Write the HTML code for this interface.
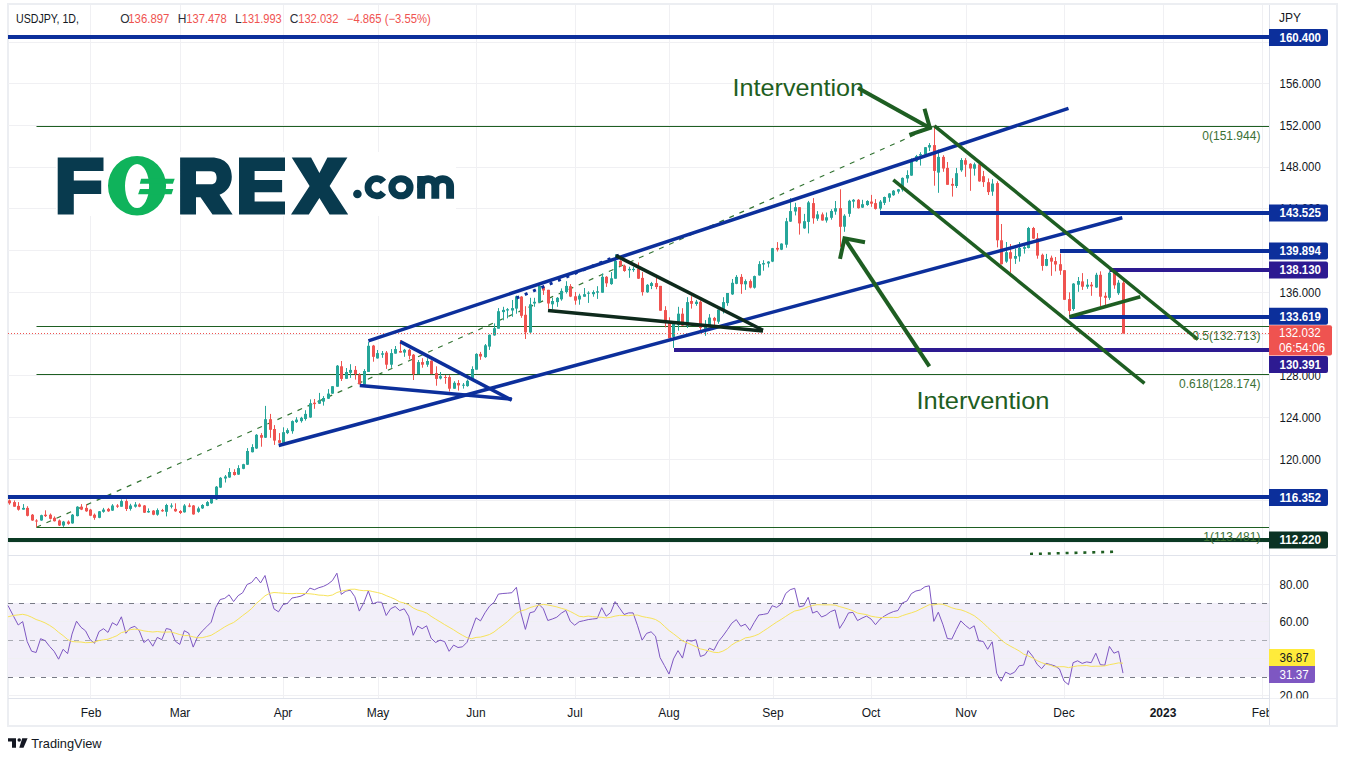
<!DOCTYPE html>
<html><head><meta charset="utf-8"><style>
html,body{margin:0;padding:0;background:#fff;width:1347px;height:761px;overflow:hidden}
svg{display:block}
text{font-family:"Liberation Sans",sans-serif}
</style></head><body>
<svg width="1347" height="761" viewBox="0 0 1347 761">
<rect x="0" y="0" width="1347" height="761" fill="#ffffff"/>
<rect x="8" y="4" width="1329" height="722" fill="none" stroke="#eceef2" stroke-width="2"/>
<line x1="90.5" y1="5" x2="90.5" y2="698" stroke="#f0f0f3" stroke-width="1"/>
<line x1="180.5" y1="5" x2="180.5" y2="698" stroke="#f0f0f3" stroke-width="1"/>
<line x1="283.5" y1="5" x2="283.5" y2="698" stroke="#f0f0f3" stroke-width="1"/>
<line x1="378.5" y1="5" x2="378.5" y2="698" stroke="#f0f0f3" stroke-width="1"/>
<line x1="476.5" y1="5" x2="476.5" y2="698" stroke="#f0f0f3" stroke-width="1"/>
<line x1="575.5" y1="5" x2="575.5" y2="698" stroke="#f0f0f3" stroke-width="1"/>
<line x1="669.5" y1="5" x2="669.5" y2="698" stroke="#f0f0f3" stroke-width="1"/>
<line x1="773.5" y1="5" x2="773.5" y2="698" stroke="#f0f0f3" stroke-width="1"/>
<line x1="871.5" y1="5" x2="871.5" y2="698" stroke="#f0f0f3" stroke-width="1"/>
<line x1="966.5" y1="5" x2="966.5" y2="698" stroke="#f0f0f3" stroke-width="1"/>
<line x1="1064.5" y1="5" x2="1064.5" y2="698" stroke="#f0f0f3" stroke-width="1"/>
<line x1="1163.5" y1="5" x2="1163.5" y2="698" stroke="#f0f0f3" stroke-width="1"/>
<line x1="1262.5" y1="5" x2="1262.5" y2="698" stroke="#f0f0f3" stroke-width="1"/>
<line x1="8" y1="542.5" x2="1269" y2="542.5" stroke="#f0f0f3" stroke-width="1"/>
<line x1="8" y1="500.5" x2="1269" y2="500.5" stroke="#f0f0f3" stroke-width="1"/>
<line x1="8" y1="459.5" x2="1269" y2="459.5" stroke="#f0f0f3" stroke-width="1"/>
<line x1="8" y1="417.5" x2="1269" y2="417.5" stroke="#f0f0f3" stroke-width="1"/>
<line x1="8" y1="375.5" x2="1269" y2="375.5" stroke="#f0f0f3" stroke-width="1"/>
<line x1="8" y1="334.5" x2="1269" y2="334.5" stroke="#f0f0f3" stroke-width="1"/>
<line x1="8" y1="292.5" x2="1269" y2="292.5" stroke="#f0f0f3" stroke-width="1"/>
<line x1="8" y1="250.5" x2="1269" y2="250.5" stroke="#f0f0f3" stroke-width="1"/>
<line x1="8" y1="208.5" x2="1269" y2="208.5" stroke="#f0f0f3" stroke-width="1"/>
<line x1="8" y1="167.5" x2="1269" y2="167.5" stroke="#f0f0f3" stroke-width="1"/>
<line x1="8" y1="125.5" x2="1269" y2="125.5" stroke="#f0f0f3" stroke-width="1"/>
<line x1="8" y1="83.5" x2="1269" y2="83.5" stroke="#f0f0f3" stroke-width="1"/>
<line x1="8" y1="42.5" x2="1269" y2="42.5" stroke="#f0f0f3" stroke-width="1"/>
<rect x="8" y="602.9" width="1261" height="74.0" fill="#f2eff9"/>
<line x1="8" y1="584.5" x2="1269" y2="584.5" stroke="#f0f0f3" stroke-width="1"/>
<line x1="8" y1="621.5" x2="1269" y2="621.5" stroke="#f0f0f3" stroke-width="1"/>
<line x1="8" y1="658.5" x2="1269" y2="658.5" stroke="#f0f0f3" stroke-width="1"/>
<line x1="8" y1="695.5" x2="1269" y2="695.5" stroke="#f0f0f3" stroke-width="1"/>
<line x1="8" y1="603.5" x2="1269" y2="603.5" stroke="#787b86" stroke-width="1" stroke-dasharray="5,6"/>
<line x1="8" y1="640.5" x2="1269" y2="640.5" stroke="#a9abb3" stroke-width="1" stroke-dasharray="5,6"/>
<line x1="8" y1="677.5" x2="1269" y2="677.5" stroke="#787b86" stroke-width="1" stroke-dasharray="5,6"/>
<line x1="36.5" y1="126.5" x2="1269" y2="126.5" stroke="#1e5f22" stroke-width="1"/>
<line x1="36.5" y1="326.5" x2="1269" y2="326.5" stroke="#1e5f22" stroke-width="1"/>
<line x1="36.5" y1="374.5" x2="1269" y2="374.5" stroke="#1e5f22" stroke-width="1"/>
<line x1="36.5" y1="527.5" x2="1269" y2="527.5" stroke="#1e5f22" stroke-width="1"/>
<line x1="36.4" y1="527.3" x2="934.4" y2="126" stroke="#347534" stroke-width="1.2" stroke-dasharray="5,6"/>
<g>
<rect x="56" y="152" width="400" height="64" fill="#fff"/>
<g fill="#083a4e">
<path d="M57.7,157.6H103.5V171H73.8V180.6H101.2V194H73.8V214.5H57.7Z"/>
<path fill-rule="evenodd" d="M180.1,157.6H211.5C225.5,157.6 231.8,166.5 231.8,176.8C231.8,185.5 227,192 219.5,194.8L232.6,214.5H212.5L200.5,197.2H196V214.5H180.1Z M196,171.2H211C215,171.2 216.6,174 216.6,177.7C216.6,181.4 215,184.3 211,184.3H196Z"/>
<path d="M239,157.6H285V171H254.6V180H282.1V192.2H254.6V201.4H285V214.5H239Z"/>
<path d="M291.7,157.6H311.1L319.4,173L327.4,157.6H347.4L329.6,186L348.2,214.5H329.6L319.4,198L308.8,214.5H291L309.6,186Z"/>
<circle cx="357.4" cy="194" r="4.3"/>
</g>
<g fill="none" stroke="#083a4e">
<path d="M383.4,181.95 A8.6,8.6 0 1 0 383.4,192.55" stroke-width="6.9"/>
<ellipse cx="400.95" cy="187.25" rx="9.0" ry="8.5" stroke-width="7.2"/>
<path d="M421.1,198.7 V186.2 A7.1,7.1 0 0 1 435.3,186.2 V198.7 M435.3,186.2 A7.4,7.1 0 0 1 450.1,186.2 V198.7" stroke-width="7.9"/>
</g>
<rect x="417.2" y="176" width="7.9" height="12" fill="#083a4e"/>
<path fill-rule="evenodd" fill="#0fb35b" d="M108,185.8 A29.05,29.8 0 1 0 166.1,185.8 A29.05,29.8 0 1 0 108,185.8Z M125,186.1 A12.05,22 0 1 0 149.1,186.1 A12.05,22 0 1 0 125,186.1Z"/>
<path fill="#0fb35b" d="M141.1,178.8H174.7L172.9,183.8H139.8Z"/>
<path fill="#0fb35b" d="M140,189.1H173.3L171.6,194.3H138.1Z"/>
</g>
<rect x="9" y="499.4" width="1" height="5.3" fill="#ef5350"/>
<rect x="8" y="500.4" width="3" height="2.9" fill="#ef5350"/>
<rect x="14" y="500.4" width="1" height="6.3" fill="#ef5350"/>
<rect x="13" y="502.1" width="3" height="4.6" fill="#ef5350"/>
<rect x="18" y="502.1" width="1" height="8.5" fill="#ef5350"/>
<rect x="17" y="505.9" width="3" height="3.8" fill="#ef5350"/>
<rect x="23" y="504.1" width="1" height="5.5" fill="#26a69a"/>
<rect x="22" y="507.9" width="3" height="1.7" fill="#26a69a"/>
<rect x="27" y="506.2" width="1" height="10.2" fill="#ef5350"/>
<rect x="26" y="507.9" width="3" height="7.9" fill="#ef5350"/>
<rect x="32" y="514.0" width="1" height="6.8" fill="#ef5350"/>
<rect x="31" y="514.7" width="3" height="5.8" fill="#ef5350"/>
<rect x="36" y="519.2" width="1" height="8.0" fill="#ef5350"/>
<rect x="35" y="520.5" width="3" height="1.0" fill="#ef5350"/>
<rect x="41" y="514.7" width="1" height="6.1" fill="#26a69a"/>
<rect x="40" y="515.2" width="3" height="5.3" fill="#26a69a"/>
<rect x="45" y="510.3" width="1" height="6.7" fill="#ef5350"/>
<rect x="44" y="514.7" width="3" height="1.4" fill="#ef5350"/>
<rect x="50" y="513.5" width="1" height="6.0" fill="#ef5350"/>
<rect x="49" y="514.7" width="3" height="4.1" fill="#ef5350"/>
<rect x="54" y="516.4" width="1" height="5.1" fill="#ef5350"/>
<rect x="53" y="517.8" width="3" height="3.4" fill="#ef5350"/>
<rect x="59" y="519.5" width="1" height="6.5" fill="#ef5350"/>
<rect x="58" y="520.5" width="3" height="5.0" fill="#ef5350"/>
<rect x="63" y="520.9" width="1" height="6.0" fill="#26a69a"/>
<rect x="62" y="521.6" width="3" height="3.9" fill="#26a69a"/>
<rect x="68" y="520.4" width="1" height="4.3" fill="#ef5350"/>
<rect x="67" y="521.6" width="3" height="2.2" fill="#ef5350"/>
<rect x="72" y="514.0" width="1" height="9.7" fill="#26a69a"/>
<rect x="71" y="514.7" width="3" height="8.7" fill="#26a69a"/>
<rect x="77" y="506.2" width="1" height="10.2" fill="#26a69a"/>
<rect x="76" y="506.7" width="3" height="9.4" fill="#26a69a"/>
<rect x="81" y="504.1" width="1" height="6.0" fill="#ef5350"/>
<rect x="80" y="506.7" width="3" height="2.9" fill="#ef5350"/>
<rect x="86" y="504.1" width="1" height="7.7" fill="#ef5350"/>
<rect x="85" y="507.9" width="3" height="3.4" fill="#ef5350"/>
<rect x="90" y="508.9" width="1" height="7.2" fill="#ef5350"/>
<rect x="89" y="509.6" width="3" height="6.1" fill="#ef5350"/>
<rect x="94" y="513.5" width="1" height="6.3" fill="#ef5350"/>
<rect x="93" y="514.7" width="3" height="3.1" fill="#ef5350"/>
<rect x="99" y="511.0" width="1" height="7.2" fill="#26a69a"/>
<rect x="98" y="511.3" width="3" height="6.5" fill="#26a69a"/>
<rect x="103" y="507.9" width="1" height="4.8" fill="#26a69a"/>
<rect x="102" y="509.6" width="3" height="2.2" fill="#26a69a"/>
<rect x="108" y="507.9" width="1" height="3.9" fill="#ef5350"/>
<rect x="107" y="508.9" width="3" height="2.4" fill="#ef5350"/>
<rect x="112" y="504.1" width="1" height="6.8" fill="#26a69a"/>
<rect x="111" y="505.5" width="3" height="5.1" fill="#26a69a"/>
<rect x="117" y="504.1" width="1" height="3.8" fill="#ef5350"/>
<rect x="116" y="505.5" width="3" height="1.2" fill="#ef5350"/>
<rect x="121" y="499.4" width="1" height="7.3" fill="#26a69a"/>
<rect x="120" y="501.1" width="3" height="5.6" fill="#26a69a"/>
<rect x="126" y="499.4" width="1" height="11.6" fill="#ef5350"/>
<rect x="125" y="501.1" width="3" height="7.9" fill="#ef5350"/>
<rect x="130" y="503.8" width="1" height="6.8" fill="#26a69a"/>
<rect x="129" y="505.5" width="3" height="3.4" fill="#26a69a"/>
<rect x="135" y="502.1" width="1" height="5.5" fill="#26a69a"/>
<rect x="134" y="504.5" width="3" height="2.2" fill="#26a69a"/>
<rect x="139" y="503.3" width="1" height="3.9" fill="#ef5350"/>
<rect x="138" y="504.5" width="3" height="2.2" fill="#ef5350"/>
<rect x="144" y="505.0" width="1" height="8.0" fill="#ef5350"/>
<rect x="143" y="505.5" width="3" height="7.2" fill="#ef5350"/>
<rect x="148" y="508.4" width="1" height="4.3" fill="#26a69a"/>
<rect x="147" y="511.0" width="3" height="1.4" fill="#26a69a"/>
<rect x="153" y="510.1" width="1" height="5.1" fill="#ef5350"/>
<rect x="152" y="510.6" width="3" height="4.1" fill="#ef5350"/>
<rect x="157" y="508.4" width="1" height="7.3" fill="#26a69a"/>
<rect x="156" y="510.1" width="3" height="4.6" fill="#26a69a"/>
<rect x="162" y="508.9" width="1" height="2.9" fill="#ef5350"/>
<rect x="161" y="510.1" width="3" height="1.2" fill="#ef5350"/>
<rect x="166" y="503.8" width="1" height="12.6" fill="#26a69a"/>
<rect x="165" y="505.0" width="3" height="6.8" fill="#26a69a"/>
<rect x="171" y="503.3" width="1" height="5.1" fill="#26a69a"/>
<rect x="170" y="505.5" width="3" height="1.2" fill="#26a69a"/>
<rect x="175" y="503.3" width="1" height="8.5" fill="#ef5350"/>
<rect x="174" y="508.9" width="3" height="2.4" fill="#ef5350"/>
<rect x="180" y="510.1" width="1" height="3.9" fill="#ef5350"/>
<rect x="179" y="511.0" width="3" height="2.0" fill="#ef5350"/>
<rect x="184" y="504.1" width="1" height="8.5" fill="#26a69a"/>
<rect x="183" y="505.5" width="3" height="6.8" fill="#26a69a"/>
<rect x="189" y="503.3" width="1" height="3.9" fill="#ef5350"/>
<rect x="188" y="505.5" width="3" height="1.2" fill="#ef5350"/>
<rect x="193" y="505.0" width="1" height="9.7" fill="#ef5350"/>
<rect x="192" y="505.5" width="3" height="8.9" fill="#ef5350"/>
<rect x="198" y="506.7" width="1" height="6.0" fill="#26a69a"/>
<rect x="197" y="508.4" width="3" height="3.4" fill="#26a69a"/>
<rect x="202" y="504.1" width="1" height="4.8" fill="#26a69a"/>
<rect x="201" y="505.0" width="3" height="3.4" fill="#26a69a"/>
<rect x="207" y="501.1" width="1" height="5.1" fill="#26a69a"/>
<rect x="206" y="502.1" width="3" height="3.8" fill="#26a69a"/>
<rect x="211" y="497.7" width="1" height="6.1" fill="#26a69a"/>
<rect x="210" y="499.0" width="3" height="4.3" fill="#26a69a"/>
<rect x="216" y="486.0" width="1" height="13.9" fill="#26a69a"/>
<rect x="215" y="486.7" width="3" height="12.7" fill="#26a69a"/>
<rect x="220" y="477.1" width="1" height="10.8" fill="#26a69a"/>
<rect x="219" y="477.8" width="3" height="9.8" fill="#26a69a"/>
<rect x="225" y="475.0" width="1" height="7.5" fill="#26a69a"/>
<rect x="224" y="476.5" width="3" height="2.0" fill="#26a69a"/>
<rect x="229" y="468.1" width="1" height="9.7" fill="#26a69a"/>
<rect x="228" y="472.0" width="3" height="5.5" fill="#26a69a"/>
<rect x="234" y="469.2" width="1" height="6.4" fill="#ef5350"/>
<rect x="233" y="472.0" width="3" height="3.0" fill="#ef5350"/>
<rect x="238" y="465.2" width="1" height="9.7" fill="#26a69a"/>
<rect x="237" y="468.1" width="3" height="6.5" fill="#26a69a"/>
<rect x="243" y="463.8" width="1" height="5.4" fill="#26a69a"/>
<rect x="242" y="464.2" width="3" height="4.6" fill="#26a69a"/>
<rect x="247" y="448.1" width="1" height="16.9" fill="#26a69a"/>
<rect x="246" y="451.0" width="3" height="13.7" fill="#26a69a"/>
<rect x="252" y="444.2" width="1" height="8.2" fill="#26a69a"/>
<rect x="251" y="447.1" width="3" height="5.1" fill="#26a69a"/>
<rect x="256" y="434.1" width="1" height="14.8" fill="#26a69a"/>
<rect x="255" y="434.8" width="3" height="13.7" fill="#26a69a"/>
<rect x="261" y="433.1" width="1" height="13.6" fill="#ef5350"/>
<rect x="260" y="435.1" width="3" height="2.6" fill="#ef5350"/>
<rect x="265" y="405.9" width="1" height="32.1" fill="#26a69a"/>
<rect x="264" y="419.2" width="3" height="18.5" fill="#26a69a"/>
<rect x="270" y="413.9" width="1" height="23.9" fill="#ef5350"/>
<rect x="269" y="419.2" width="3" height="10.6" fill="#ef5350"/>
<rect x="274" y="425.1" width="1" height="19.8" fill="#ef5350"/>
<rect x="273" y="429.0" width="3" height="11.6" fill="#ef5350"/>
<rect x="279" y="433.1" width="1" height="10.1" fill="#ef5350"/>
<rect x="278" y="440.2" width="3" height="2.6" fill="#ef5350"/>
<rect x="283" y="427.3" width="1" height="15.8" fill="#26a69a"/>
<rect x="282" y="432.2" width="3" height="10.6" fill="#26a69a"/>
<rect x="287" y="428.3" width="1" height="5.8" fill="#26a69a"/>
<rect x="286" y="430.1" width="3" height="3.0" fill="#26a69a"/>
<rect x="292" y="420.4" width="1" height="13.3" fill="#26a69a"/>
<rect x="291" y="421.1" width="3" height="10.1" fill="#26a69a"/>
<rect x="296" y="417.2" width="1" height="5.8" fill="#26a69a"/>
<rect x="295" y="419.6" width="3" height="2.5" fill="#26a69a"/>
<rect x="301" y="416.8" width="1" height="5.8" fill="#26a69a"/>
<rect x="300" y="417.8" width="3" height="3.3" fill="#26a69a"/>
<rect x="305" y="410.2" width="1" height="10.4" fill="#26a69a"/>
<rect x="304" y="413.9" width="3" height="5.1" fill="#26a69a"/>
<rect x="310" y="399.4" width="1" height="18.4" fill="#26a69a"/>
<rect x="309" y="403.3" width="3" height="14.2" fill="#26a69a"/>
<rect x="314" y="399.0" width="1" height="9.8" fill="#ef5350"/>
<rect x="313" y="402.7" width="3" height="1.4" fill="#ef5350"/>
<rect x="319" y="392.9" width="1" height="11.1" fill="#26a69a"/>
<rect x="318" y="400.4" width="3" height="3.3" fill="#26a69a"/>
<rect x="323" y="396.1" width="1" height="9.5" fill="#26a69a"/>
<rect x="322" y="398.0" width="3" height="3.6" fill="#26a69a"/>
<rect x="328" y="389.1" width="1" height="9.8" fill="#26a69a"/>
<rect x="327" y="393.6" width="3" height="5.1" fill="#26a69a"/>
<rect x="332" y="386.2" width="1" height="7.6" fill="#26a69a"/>
<rect x="331" y="386.2" width="3" height="7.4" fill="#26a69a"/>
<rect x="337" y="365.0" width="1" height="21.8" fill="#26a69a"/>
<rect x="336" y="365.7" width="3" height="21.0" fill="#26a69a"/>
<rect x="341" y="361.0" width="1" height="20.0" fill="#ef5350"/>
<rect x="340" y="366.3" width="3" height="12.6" fill="#ef5350"/>
<rect x="346" y="368.0" width="1" height="10.8" fill="#26a69a"/>
<rect x="345" y="372.0" width="3" height="6.8" fill="#26a69a"/>
<rect x="350" y="364.2" width="1" height="13.7" fill="#26a69a"/>
<rect x="349" y="369.9" width="3" height="2.9" fill="#26a69a"/>
<rect x="355" y="366.0" width="1" height="13.6" fill="#ef5350"/>
<rect x="354" y="369.9" width="3" height="4.2" fill="#ef5350"/>
<rect x="359" y="373.1" width="1" height="11.4" fill="#ef5350"/>
<rect x="358" y="374.7" width="3" height="9.5" fill="#ef5350"/>
<rect x="364" y="369.1" width="1" height="15.6" fill="#26a69a"/>
<rect x="363" y="371.0" width="3" height="13.7" fill="#26a69a"/>
<rect x="368" y="342.1" width="1" height="29.7" fill="#26a69a"/>
<rect x="367" y="345.8" width="3" height="26.1" fill="#26a69a"/>
<rect x="373" y="344.9" width="1" height="16.8" fill="#ef5350"/>
<rect x="372" y="345.6" width="3" height="11.2" fill="#ef5350"/>
<rect x="377" y="350.0" width="1" height="8.6" fill="#26a69a"/>
<rect x="376" y="353.1" width="3" height="5.3" fill="#26a69a"/>
<rect x="382" y="351.0" width="1" height="6.8" fill="#26a69a"/>
<rect x="381" y="353.3" width="3" height="1.4" fill="#26a69a"/>
<rect x="386" y="351.0" width="1" height="17.9" fill="#ef5350"/>
<rect x="385" y="352.6" width="3" height="12.1" fill="#ef5350"/>
<rect x="391" y="349.1" width="1" height="18.7" fill="#26a69a"/>
<rect x="390" y="353.1" width="3" height="11.6" fill="#26a69a"/>
<rect x="395" y="346.0" width="1" height="7.7" fill="#26a69a"/>
<rect x="394" y="349.1" width="3" height="4.5" fill="#26a69a"/>
<rect x="400" y="340.0" width="1" height="12.6" fill="#ef5350"/>
<rect x="399" y="351.0" width="3" height="1.6" fill="#ef5350"/>
<rect x="404" y="348.9" width="1" height="7.9" fill="#26a69a"/>
<rect x="403" y="349.8" width="3" height="2.8" fill="#26a69a"/>
<rect x="409" y="348.9" width="1" height="10.5" fill="#ef5350"/>
<rect x="408" y="349.8" width="3" height="6.0" fill="#ef5350"/>
<rect x="413" y="354.0" width="1" height="26.0" fill="#ef5350"/>
<rect x="412" y="354.7" width="3" height="19.4" fill="#ef5350"/>
<rect x="418" y="360.0" width="1" height="14.2" fill="#26a69a"/>
<rect x="417" y="362.1" width="3" height="11.9" fill="#26a69a"/>
<rect x="422" y="358.2" width="1" height="9.5" fill="#ef5350"/>
<rect x="421" y="362.1" width="3" height="2.6" fill="#ef5350"/>
<rect x="427" y="358.2" width="1" height="8.6" fill="#26a69a"/>
<rect x="426" y="361.0" width="3" height="3.7" fill="#26a69a"/>
<rect x="431" y="360.3" width="1" height="13.9" fill="#ef5350"/>
<rect x="430" y="360.7" width="3" height="13.2" fill="#ef5350"/>
<rect x="436" y="366.3" width="1" height="19.4" fill="#ef5350"/>
<rect x="435" y="373.1" width="3" height="5.8" fill="#ef5350"/>
<rect x="440" y="372.0" width="1" height="7.4" fill="#26a69a"/>
<rect x="439" y="376.2" width="3" height="2.3" fill="#26a69a"/>
<rect x="445" y="375.0" width="1" height="8.8" fill="#ef5350"/>
<rect x="444" y="377.0" width="3" height="1.0" fill="#ef5350"/>
<rect x="449" y="375.2" width="1" height="16.3" fill="#ef5350"/>
<rect x="448" y="377.1" width="3" height="11.6" fill="#ef5350"/>
<rect x="454" y="381.2" width="1" height="7.5" fill="#26a69a"/>
<rect x="453" y="382.8" width="3" height="5.9" fill="#26a69a"/>
<rect x="458" y="380.1" width="1" height="10.5" fill="#ef5350"/>
<rect x="457" y="383.0" width="3" height="2.4" fill="#ef5350"/>
<rect x="463" y="383.0" width="1" height="5.6" fill="#26a69a"/>
<rect x="462" y="384.7" width="3" height="1.0" fill="#26a69a"/>
<rect x="467" y="379.5" width="1" height="7.2" fill="#26a69a"/>
<rect x="466" y="380.8" width="3" height="5.3" fill="#26a69a"/>
<rect x="472" y="366.3" width="1" height="12.5" fill="#26a69a"/>
<rect x="471" y="369.0" width="3" height="9.9" fill="#26a69a"/>
<rect x="476" y="353.2" width="1" height="16.4" fill="#26a69a"/>
<rect x="475" y="353.9" width="3" height="15.8" fill="#26a69a"/>
<rect x="480" y="351.9" width="1" height="7.9" fill="#ef5350"/>
<rect x="479" y="353.9" width="3" height="2.6" fill="#ef5350"/>
<rect x="485" y="344.0" width="1" height="13.8" fill="#26a69a"/>
<rect x="484" y="345.3" width="3" height="11.8" fill="#26a69a"/>
<rect x="489" y="334.4" width="1" height="15.5" fill="#26a69a"/>
<rect x="488" y="334.8" width="3" height="11.8" fill="#26a69a"/>
<rect x="494" y="323.4" width="1" height="12.3" fill="#26a69a"/>
<rect x="493" y="328.2" width="3" height="7.2" fill="#26a69a"/>
<rect x="498" y="308.1" width="1" height="20.5" fill="#26a69a"/>
<rect x="497" y="311.2" width="3" height="17.5" fill="#26a69a"/>
<rect x="503" y="306.8" width="1" height="13.5" fill="#26a69a"/>
<rect x="502" y="309.9" width="3" height="2.2" fill="#26a69a"/>
<rect x="507" y="308.1" width="1" height="10.2" fill="#26a69a"/>
<rect x="506" y="309.2" width="3" height="1.3" fill="#26a69a"/>
<rect x="512" y="300.0" width="1" height="16.8" fill="#26a69a"/>
<rect x="511" y="308.1" width="3" height="2.4" fill="#26a69a"/>
<rect x="516" y="295.6" width="1" height="18.1" fill="#26a69a"/>
<rect x="515" y="296.3" width="3" height="12.3" fill="#26a69a"/>
<rect x="521" y="296.1" width="1" height="21.7" fill="#ef5350"/>
<rect x="520" y="296.6" width="3" height="19.2" fill="#ef5350"/>
<rect x="525" y="306.2" width="1" height="32.8" fill="#ef5350"/>
<rect x="524" y="314.8" width="3" height="17.6" fill="#ef5350"/>
<rect x="530" y="297.8" width="1" height="35.0" fill="#26a69a"/>
<rect x="529" y="304.3" width="3" height="28.2" fill="#26a69a"/>
<rect x="534" y="297.8" width="1" height="9.0" fill="#26a69a"/>
<rect x="533" y="301.8" width="3" height="1.7" fill="#26a69a"/>
<rect x="539" y="285.5" width="1" height="17.3" fill="#26a69a"/>
<rect x="538" y="285.9" width="3" height="16.5" fill="#26a69a"/>
<rect x="543" y="285.1" width="1" height="9.8" fill="#ef5350"/>
<rect x="542" y="286.5" width="3" height="4.0" fill="#ef5350"/>
<rect x="548" y="289.8" width="1" height="18.8" fill="#ef5350"/>
<rect x="547" y="289.8" width="3" height="13.7" fill="#ef5350"/>
<rect x="552" y="297.8" width="1" height="11.3" fill="#26a69a"/>
<rect x="551" y="301.0" width="3" height="3.3" fill="#26a69a"/>
<rect x="557" y="297.1" width="1" height="9.7" fill="#26a69a"/>
<rect x="556" y="297.8" width="3" height="4.3" fill="#26a69a"/>
<rect x="561" y="288.4" width="1" height="12.3" fill="#26a69a"/>
<rect x="560" y="290.9" width="3" height="8.4" fill="#26a69a"/>
<rect x="566" y="281.2" width="1" height="12.3" fill="#26a69a"/>
<rect x="565" y="285.9" width="3" height="6.1" fill="#26a69a"/>
<rect x="570" y="284.1" width="1" height="13.0" fill="#ef5350"/>
<rect x="569" y="286.2" width="3" height="10.4" fill="#ef5350"/>
<rect x="575" y="292.0" width="1" height="12.7" fill="#ef5350"/>
<rect x="574" y="296.3" width="3" height="4.3" fill="#ef5350"/>
<rect x="579" y="293.7" width="1" height="11.0" fill="#26a69a"/>
<rect x="578" y="295.6" width="3" height="3.9" fill="#26a69a"/>
<rect x="584" y="288.0" width="1" height="8.7" fill="#26a69a"/>
<rect x="583" y="294.2" width="3" height="2.5" fill="#26a69a"/>
<rect x="588" y="291.3" width="1" height="11.6" fill="#26a69a"/>
<rect x="587" y="292.7" width="3" height="1.0" fill="#26a69a"/>
<rect x="593" y="290.3" width="1" height="6.4" fill="#26a69a"/>
<rect x="592" y="292.0" width="3" height="2.2" fill="#26a69a"/>
<rect x="597" y="286.2" width="1" height="12.7" fill="#26a69a"/>
<rect x="596" y="291.3" width="3" height="1.4" fill="#26a69a"/>
<rect x="602" y="273.5" width="1" height="19.2" fill="#26a69a"/>
<rect x="601" y="276.8" width="3" height="15.9" fill="#26a69a"/>
<rect x="606" y="276.1" width="1" height="10.8" fill="#ef5350"/>
<rect x="605" y="276.8" width="3" height="6.5" fill="#ef5350"/>
<rect x="611" y="272.1" width="1" height="12.7" fill="#26a69a"/>
<rect x="610" y="278.3" width="3" height="5.8" fill="#26a69a"/>
<rect x="615" y="254.4" width="1" height="24.3" fill="#26a69a"/>
<rect x="614" y="260.9" width="3" height="17.8" fill="#26a69a"/>
<rect x="620" y="260.2" width="1" height="6.5" fill="#ef5350"/>
<rect x="619" y="260.9" width="3" height="5.1" fill="#ef5350"/>
<rect x="624" y="264.6" width="1" height="7.2" fill="#ef5350"/>
<rect x="623" y="265.7" width="3" height="5.3" fill="#ef5350"/>
<rect x="629" y="266.7" width="1" height="11.1" fill="#26a69a"/>
<rect x="628" y="268.9" width="3" height="1.4" fill="#26a69a"/>
<rect x="633" y="266.7" width="1" height="5.1" fill="#26a69a"/>
<rect x="632" y="268.9" width="3" height="1.2" fill="#26a69a"/>
<rect x="638" y="262.4" width="1" height="16.6" fill="#ef5350"/>
<rect x="637" y="268.6" width="3" height="10.1" fill="#ef5350"/>
<rect x="642" y="272.1" width="1" height="23.5" fill="#ef5350"/>
<rect x="641" y="277.9" width="3" height="14.2" fill="#ef5350"/>
<rect x="647" y="284.1" width="1" height="8.7" fill="#26a69a"/>
<rect x="646" y="284.8" width="3" height="7.5" fill="#26a69a"/>
<rect x="651" y="281.9" width="1" height="7.2" fill="#26a69a"/>
<rect x="650" y="283.1" width="3" height="2.9" fill="#26a69a"/>
<rect x="656" y="277.9" width="1" height="11.3" fill="#ef5350"/>
<rect x="655" y="283.1" width="3" height="3.9" fill="#ef5350"/>
<rect x="660" y="285.9" width="1" height="24.8" fill="#ef5350"/>
<rect x="659" y="285.9" width="3" height="24.8" fill="#ef5350"/>
<rect x="665" y="306.2" width="1" height="21.2" fill="#ef5350"/>
<rect x="664" y="310.1" width="3" height="13.0" fill="#ef5350"/>
<rect x="669" y="317.3" width="1" height="20.9" fill="#ef5350"/>
<rect x="668" y="323.1" width="3" height="15.2" fill="#ef5350"/>
<rect x="673" y="323.1" width="1" height="24.8" fill="#26a69a"/>
<rect x="672" y="323.1" width="3" height="13.8" fill="#26a69a"/>
<rect x="678" y="306.8" width="1" height="23.9" fill="#26a69a"/>
<rect x="677" y="313.7" width="3" height="11.4" fill="#26a69a"/>
<rect x="682" y="308.2" width="1" height="17.7" fill="#ef5350"/>
<rect x="681" y="313.7" width="3" height="11.9" fill="#ef5350"/>
<rect x="687" y="297.2" width="1" height="30.8" fill="#26a69a"/>
<rect x="686" y="302.1" width="3" height="23.7" fill="#26a69a"/>
<rect x="691" y="296.2" width="1" height="12.4" fill="#ef5350"/>
<rect x="690" y="301.0" width="3" height="2.8" fill="#ef5350"/>
<rect x="696" y="299.9" width="1" height="5.9" fill="#26a69a"/>
<rect x="695" y="301.7" width="3" height="2.3" fill="#26a69a"/>
<rect x="700" y="300.3" width="1" height="29.7" fill="#ef5350"/>
<rect x="699" y="301.7" width="3" height="26.2" fill="#ef5350"/>
<rect x="705" y="320.1" width="1" height="15.7" fill="#26a69a"/>
<rect x="704" y="325.9" width="3" height="3.4" fill="#26a69a"/>
<rect x="709" y="314.1" width="1" height="11.4" fill="#26a69a"/>
<rect x="708" y="317.6" width="3" height="8.0" fill="#26a69a"/>
<rect x="714" y="316.9" width="1" height="8.3" fill="#ef5350"/>
<rect x="713" y="317.9" width="3" height="2.8" fill="#ef5350"/>
<rect x="718" y="309.3" width="1" height="14.5" fill="#26a69a"/>
<rect x="717" y="309.6" width="3" height="12.1" fill="#26a69a"/>
<rect x="723" y="297.2" width="1" height="16.3" fill="#26a69a"/>
<rect x="722" y="302.1" width="3" height="8.6" fill="#26a69a"/>
<rect x="727" y="293.0" width="1" height="12.8" fill="#26a69a"/>
<rect x="726" y="293.0" width="3" height="10.1" fill="#26a69a"/>
<rect x="732" y="279.0" width="1" height="15.9" fill="#26a69a"/>
<rect x="731" y="282.8" width="3" height="11.6" fill="#26a69a"/>
<rect x="736" y="275.1" width="1" height="9.1" fill="#26a69a"/>
<rect x="735" y="276.9" width="3" height="6.9" fill="#26a69a"/>
<rect x="741" y="274.1" width="1" height="19.7" fill="#ef5350"/>
<rect x="740" y="276.9" width="3" height="7.3" fill="#ef5350"/>
<rect x="745" y="279.4" width="1" height="10.5" fill="#26a69a"/>
<rect x="744" y="281.1" width="3" height="3.2" fill="#26a69a"/>
<rect x="750" y="279.4" width="1" height="9.0" fill="#ef5350"/>
<rect x="749" y="281.1" width="3" height="6.5" fill="#ef5350"/>
<rect x="754" y="275.6" width="1" height="13.0" fill="#26a69a"/>
<rect x="753" y="276.1" width="3" height="11.6" fill="#26a69a"/>
<rect x="759" y="261.2" width="1" height="14.4" fill="#26a69a"/>
<rect x="758" y="264.1" width="3" height="11.3" fill="#26a69a"/>
<rect x="763" y="260.2" width="1" height="10.5" fill="#26a69a"/>
<rect x="762" y="263.1" width="3" height="1.4" fill="#26a69a"/>
<rect x="768" y="261.2" width="1" height="6.2" fill="#26a69a"/>
<rect x="767" y="261.6" width="3" height="1.9" fill="#26a69a"/>
<rect x="772" y="247.9" width="1" height="14.2" fill="#26a69a"/>
<rect x="771" y="248.2" width="3" height="13.4" fill="#26a69a"/>
<rect x="777" y="242.1" width="1" height="9.4" fill="#ef5350"/>
<rect x="776" y="247.9" width="3" height="1.7" fill="#ef5350"/>
<rect x="781" y="243.3" width="1" height="6.8" fill="#26a69a"/>
<rect x="780" y="243.6" width="3" height="6.1" fill="#26a69a"/>
<rect x="786" y="217.9" width="1" height="29.8" fill="#26a69a"/>
<rect x="785" y="221.2" width="3" height="23.5" fill="#26a69a"/>
<rect x="790" y="198.1" width="1" height="23.8" fill="#26a69a"/>
<rect x="789" y="211.1" width="3" height="10.5" fill="#26a69a"/>
<rect x="795" y="202.8" width="1" height="12.6" fill="#26a69a"/>
<rect x="794" y="207.2" width="3" height="4.3" fill="#26a69a"/>
<rect x="799" y="207.2" width="1" height="27.4" fill="#ef5350"/>
<rect x="798" y="207.2" width="3" height="16.2" fill="#ef5350"/>
<rect x="804" y="213.9" width="1" height="14.9" fill="#26a69a"/>
<rect x="803" y="221.2" width="3" height="7.2" fill="#26a69a"/>
<rect x="808" y="200.9" width="1" height="32.5" fill="#26a69a"/>
<rect x="807" y="202.4" width="3" height="19.5" fill="#26a69a"/>
<rect x="813" y="198.1" width="1" height="25.6" fill="#ef5350"/>
<rect x="812" y="203.1" width="3" height="15.2" fill="#ef5350"/>
<rect x="817" y="211.1" width="1" height="9.7" fill="#26a69a"/>
<rect x="816" y="214.4" width="3" height="4.3" fill="#26a69a"/>
<rect x="822" y="212.5" width="1" height="8.2" fill="#ef5350"/>
<rect x="821" y="214.4" width="3" height="6.1" fill="#ef5350"/>
<rect x="826" y="212.5" width="1" height="10.1" fill="#26a69a"/>
<rect x="825" y="217.3" width="3" height="3.2" fill="#26a69a"/>
<rect x="831" y="209.2" width="1" height="10.5" fill="#26a69a"/>
<rect x="830" y="211.0" width="3" height="6.8" fill="#26a69a"/>
<rect x="835" y="201.0" width="1" height="13.7" fill="#26a69a"/>
<rect x="834" y="208.2" width="3" height="3.4" fill="#26a69a"/>
<rect x="840" y="189.3" width="1" height="57.5" fill="#ef5350"/>
<rect x="839" y="208.2" width="3" height="18.6" fill="#ef5350"/>
<rect x="844" y="214.2" width="1" height="17.6" fill="#26a69a"/>
<rect x="843" y="215.7" width="3" height="11.0" fill="#26a69a"/>
<rect x="849" y="199.8" width="1" height="17.0" fill="#26a69a"/>
<rect x="848" y="200.8" width="3" height="13.0" fill="#26a69a"/>
<rect x="853" y="199.1" width="1" height="8.7" fill="#26a69a"/>
<rect x="852" y="199.8" width="3" height="1.8" fill="#26a69a"/>
<rect x="858" y="199.1" width="1" height="9.5" fill="#ef5350"/>
<rect x="857" y="199.8" width="3" height="8.4" fill="#ef5350"/>
<rect x="862" y="199.8" width="1" height="8.1" fill="#26a69a"/>
<rect x="861" y="204.2" width="3" height="3.4" fill="#26a69a"/>
<rect x="867" y="200.2" width="1" height="5.6" fill="#26a69a"/>
<rect x="866" y="201.0" width="3" height="4.0" fill="#26a69a"/>
<rect x="871" y="194.9" width="1" height="11.9" fill="#ef5350"/>
<rect x="870" y="201.6" width="3" height="2.1" fill="#ef5350"/>
<rect x="875" y="199.1" width="1" height="10.5" fill="#ef5350"/>
<rect x="874" y="203.1" width="3" height="5.8" fill="#ef5350"/>
<rect x="880" y="200.0" width="1" height="10.5" fill="#26a69a"/>
<rect x="879" y="201.6" width="3" height="7.0" fill="#26a69a"/>
<rect x="884" y="196.6" width="1" height="8.4" fill="#26a69a"/>
<rect x="883" y="197.0" width="3" height="5.9" fill="#26a69a"/>
<rect x="889" y="193.1" width="1" height="8.7" fill="#26a69a"/>
<rect x="888" y="193.5" width="3" height="4.2" fill="#26a69a"/>
<rect x="893" y="190.0" width="1" height="5.8" fill="#26a69a"/>
<rect x="892" y="190.7" width="3" height="4.5" fill="#26a69a"/>
<rect x="898" y="188.9" width="1" height="4.7" fill="#26a69a"/>
<rect x="897" y="189.3" width="3" height="2.3" fill="#26a69a"/>
<rect x="902" y="177.4" width="1" height="14.2" fill="#26a69a"/>
<rect x="901" y="177.9" width="3" height="11.8" fill="#26a69a"/>
<rect x="907" y="170.3" width="1" height="12.4" fill="#26a69a"/>
<rect x="906" y="175.0" width="3" height="3.5" fill="#26a69a"/>
<rect x="911" y="158.4" width="1" height="17.4" fill="#26a69a"/>
<rect x="910" y="161.4" width="3" height="14.2" fill="#26a69a"/>
<rect x="916" y="154.9" width="1" height="7.1" fill="#26a69a"/>
<rect x="915" y="156.1" width="3" height="5.3" fill="#26a69a"/>
<rect x="920" y="152.2" width="1" height="13.4" fill="#26a69a"/>
<rect x="919" y="154.1" width="3" height="1.4" fill="#26a69a"/>
<rect x="925" y="147.0" width="1" height="7.9" fill="#26a69a"/>
<rect x="924" y="147.2" width="3" height="7.3" fill="#26a69a"/>
<rect x="929" y="143.1" width="1" height="7.9" fill="#26a69a"/>
<rect x="928" y="145.1" width="3" height="2.4" fill="#26a69a"/>
<rect x="934" y="125.7" width="1" height="60.0" fill="#ef5350"/>
<rect x="933" y="145.1" width="3" height="25.8" fill="#ef5350"/>
<rect x="938" y="149.6" width="1" height="43.2" fill="#26a69a"/>
<rect x="937" y="156.9" width="3" height="15.7" fill="#26a69a"/>
<rect x="943" y="155.2" width="1" height="16.6" fill="#ef5350"/>
<rect x="942" y="156.9" width="3" height="11.6" fill="#ef5350"/>
<rect x="947" y="162.0" width="1" height="22.8" fill="#ef5350"/>
<rect x="946" y="167.9" width="3" height="16.9" fill="#ef5350"/>
<rect x="952" y="178.2" width="1" height="18.4" fill="#ef5350"/>
<rect x="951" y="183.9" width="3" height="1.8" fill="#ef5350"/>
<rect x="956" y="167.9" width="1" height="20.1" fill="#26a69a"/>
<rect x="955" y="173.2" width="3" height="12.8" fill="#26a69a"/>
<rect x="961" y="158.1" width="1" height="13.7" fill="#26a69a"/>
<rect x="960" y="160.0" width="3" height="10.3" fill="#26a69a"/>
<rect x="965" y="158.1" width="1" height="18.7" fill="#ef5350"/>
<rect x="964" y="160.2" width="3" height="4.5" fill="#ef5350"/>
<rect x="970" y="163.2" width="1" height="27.6" fill="#ef5350"/>
<rect x="969" y="163.8" width="3" height="4.7" fill="#ef5350"/>
<rect x="974" y="162.6" width="1" height="13.0" fill="#26a69a"/>
<rect x="973" y="164.3" width="3" height="4.4" fill="#26a69a"/>
<rect x="979" y="164.3" width="1" height="17.4" fill="#ef5350"/>
<rect x="978" y="164.3" width="3" height="17.1" fill="#ef5350"/>
<rect x="983" y="170.9" width="1" height="16.0" fill="#ef5350"/>
<rect x="982" y="176.2" width="3" height="5.9" fill="#ef5350"/>
<rect x="988" y="178.4" width="1" height="16.6" fill="#ef5350"/>
<rect x="987" y="182.2" width="3" height="9.9" fill="#ef5350"/>
<rect x="992" y="179.1" width="1" height="16.7" fill="#26a69a"/>
<rect x="991" y="183.6" width="3" height="8.0" fill="#26a69a"/>
<rect x="997" y="181.3" width="1" height="66.1" fill="#ef5350"/>
<rect x="996" y="183.1" width="3" height="57.2" fill="#ef5350"/>
<rect x="1001" y="224.0" width="1" height="40.5" fill="#ef5350"/>
<rect x="1000" y="240.3" width="3" height="23.9" fill="#ef5350"/>
<rect x="1006" y="242.0" width="1" height="20.8" fill="#26a69a"/>
<rect x="1005" y="252.2" width="3" height="9.4" fill="#26a69a"/>
<rect x="1010" y="244.0" width="1" height="28.7" fill="#ef5350"/>
<rect x="1009" y="252.2" width="3" height="6.5" fill="#ef5350"/>
<rect x="1015" y="248.5" width="1" height="15.4" fill="#26a69a"/>
<rect x="1014" y="256.0" width="3" height="2.7" fill="#26a69a"/>
<rect x="1019" y="242.0" width="1" height="19.6" fill="#26a69a"/>
<rect x="1018" y="247.9" width="3" height="8.5" fill="#26a69a"/>
<rect x="1024" y="245.4" width="1" height="8.2" fill="#26a69a"/>
<rect x="1023" y="247.1" width="3" height="1.7" fill="#26a69a"/>
<rect x="1028" y="226.9" width="1" height="21.5" fill="#26a69a"/>
<rect x="1027" y="228.0" width="3" height="20.0" fill="#26a69a"/>
<rect x="1033" y="226.9" width="1" height="12.0" fill="#ef5350"/>
<rect x="1032" y="228.0" width="3" height="10.6" fill="#ef5350"/>
<rect x="1037" y="233.1" width="1" height="25.6" fill="#ef5350"/>
<rect x="1036" y="238.2" width="3" height="17.4" fill="#ef5350"/>
<rect x="1042" y="253.6" width="1" height="17.1" fill="#ef5350"/>
<rect x="1041" y="254.8" width="3" height="11.1" fill="#ef5350"/>
<rect x="1046" y="253.9" width="1" height="12.3" fill="#26a69a"/>
<rect x="1045" y="259.0" width="3" height="6.8" fill="#26a69a"/>
<rect x="1051" y="255.6" width="1" height="20.2" fill="#ef5350"/>
<rect x="1050" y="257.7" width="3" height="3.9" fill="#ef5350"/>
<rect x="1055" y="257.0" width="1" height="14.3" fill="#ef5350"/>
<rect x="1054" y="261.1" width="3" height="3.4" fill="#ef5350"/>
<rect x="1060" y="253.6" width="1" height="21.2" fill="#ef5350"/>
<rect x="1059" y="264.2" width="3" height="6.5" fill="#ef5350"/>
<rect x="1064" y="270.2" width="1" height="29.6" fill="#ef5350"/>
<rect x="1063" y="270.2" width="3" height="29.6" fill="#ef5350"/>
<rect x="1069" y="292.3" width="1" height="22.6" fill="#ef5350"/>
<rect x="1068" y="299.1" width="3" height="11.8" fill="#ef5350"/>
<rect x="1073" y="283.1" width="1" height="27.6" fill="#26a69a"/>
<rect x="1072" y="283.6" width="3" height="25.4" fill="#26a69a"/>
<rect x="1078" y="277.0" width="1" height="14.8" fill="#26a69a"/>
<rect x="1077" y="281.0" width="3" height="3.7" fill="#26a69a"/>
<rect x="1082" y="273.1" width="1" height="16.8" fill="#ef5350"/>
<rect x="1081" y="281.4" width="3" height="5.3" fill="#ef5350"/>
<rect x="1087" y="279.1" width="1" height="9.7" fill="#26a69a"/>
<rect x="1086" y="284.7" width="3" height="2.0" fill="#26a69a"/>
<rect x="1091" y="282.0" width="1" height="13.8" fill="#ef5350"/>
<rect x="1090" y="284.7" width="3" height="1.6" fill="#ef5350"/>
<rect x="1096" y="272.8" width="1" height="15.1" fill="#26a69a"/>
<rect x="1095" y="274.8" width="3" height="12.7" fill="#26a69a"/>
<rect x="1100" y="271.3" width="1" height="34.7" fill="#ef5350"/>
<rect x="1099" y="274.8" width="3" height="21.9" fill="#ef5350"/>
<rect x="1105" y="292.3" width="1" height="12.7" fill="#ef5350"/>
<rect x="1104" y="295.8" width="3" height="2.0" fill="#ef5350"/>
<rect x="1109" y="271.8" width="1" height="28.0" fill="#26a69a"/>
<rect x="1108" y="272.8" width="3" height="25.0" fill="#26a69a"/>
<rect x="1114" y="272.8" width="1" height="16.0" fill="#ef5350"/>
<rect x="1113" y="272.8" width="3" height="12.5" fill="#ef5350"/>
<rect x="1118" y="280.1" width="1" height="14.8" fill="#26a69a"/>
<rect x="1117" y="282.7" width="3" height="10.5" fill="#26a69a"/>
<rect x="1123" y="280.7" width="1" height="52.8" fill="#ef5350"/>
<rect x="1122" y="282.7" width="3" height="50.8" fill="#ef5350"/>
<line x1="8" y1="37" x2="1269" y2="37" stroke="#0c2f9b" stroke-width="4"/>
<line x1="880" y1="213" x2="1269" y2="213" stroke="#0c2f9b" stroke-width="4"/>
<line x1="1060" y1="251" x2="1269" y2="251" stroke="#0c2f9b" stroke-width="4"/>
<line x1="1109.5" y1="270" x2="1269" y2="270" stroke="#2d1a91" stroke-width="4"/>
<line x1="1069.4" y1="317" x2="1269" y2="317" stroke="#0c2f9b" stroke-width="4"/>
<line x1="674" y1="350" x2="1269" y2="350" stroke="#2d1a91" stroke-width="4"/>
<line x1="8" y1="497" x2="1269" y2="497" stroke="#0c2f9b" stroke-width="4"/>
<line x1="8" y1="540" x2="1269" y2="540" stroke="#0b3a24" stroke-width="4"/>
<line x1="8" y1="333.5" x2="1269" y2="333.5" stroke="#ef5350" stroke-width="1" stroke-dasharray="1,2"/>
<line x1="368.4" y1="340.8" x2="1068.5" y2="108.3" stroke="#0c2f9b" stroke-width="3.5" stroke-linecap="butt"/>
<line x1="278.7" y1="445.5" x2="1122.3" y2="217.8" stroke="#0c2f9b" stroke-width="3.5" stroke-linecap="butt"/>
<line x1="516.5" y1="298" x2="619" y2="255" stroke="#0c2f9b" stroke-width="3" stroke-dasharray="3,6"/>
<line x1="359.8" y1="385.6" x2="511.7" y2="399.1" stroke="#0c2f9b" stroke-width="3.5" stroke-linecap="butt"/>
<line x1="400.3" y1="341.6" x2="511.7" y2="400.1" stroke="#0c2f9b" stroke-width="3.5" stroke-linecap="butt"/>
<line x1="548" y1="310.5" x2="763" y2="331" stroke="#0e2a1c" stroke-width="3.5" stroke-linecap="butt"/>
<line x1="615.9" y1="255.6" x2="763" y2="330.2" stroke="#0e2a1c" stroke-width="3.5" stroke-linecap="butt"/>
<line x1="934.4" y1="125.8" x2="1197.9" y2="339.5" stroke="#1e5e22" stroke-width="3.5" stroke-linecap="butt"/>
<line x1="893.3" y1="179.8" x2="1144.5" y2="383.3" stroke="#1e5e22" stroke-width="3.5" stroke-linecap="butt"/>
<line x1="1069.4" y1="316.7" x2="1140.3" y2="296.8" stroke="#1e5e22" stroke-width="3.5" stroke-linecap="butt"/>
<g stroke="#1e5e22" stroke-width="4" fill="none" stroke-linecap="butt" stroke-linejoin="miter"><line x1="858" y1="87.9" x2="929.9" y2="127.9"/><polyline points="924.5,108.8 929.9,127.9 909.4,134.9"/><line x1="929.4" y1="366.4" x2="844.5" y2="238.4"/><polyline points="865,242.3 844.5,238.4 840,258.9"/></g>
<text x="732.6" y="95.7" font-size="24" fill="#1e5e22" textLength="131.5" lengthAdjust="spacingAndGlyphs">Intervention</text>
<text x="916.5" y="408.5" font-size="24" fill="#1e5e22" textLength="133" lengthAdjust="spacingAndGlyphs">Intervention</text>
<line x1="1030" y1="554" x2="1114" y2="551.8" stroke="#1e5e22" stroke-width="2.6" stroke-dasharray="3,5.9"/>
<text x="1260.4" y="139.5" font-size="12" fill="#3a7034" text-anchor="end">0(151.944)</text>
<text x="1260.4" y="340" font-size="12" fill="#3a7034" text-anchor="end">0.5(132.713)</text>
<text x="1260.4" y="387.9" font-size="12" fill="#3a7034" text-anchor="end">0.618(128.174)</text>
<text x="1260.4" y="541" font-size="12" fill="#3a7034" text-anchor="end">1(113.481)</text>
<text x="16" y="23" font-size="12" fill="#131722" textLength="63" lengthAdjust="spacingAndGlyphs">USDJPY, 1D,</text>
<text x="120.2" y="23" font-size="12" fill="#2a2e39">O</text>
<text x="128.3" y="23" font-size="12" fill="#ef5350" textLength="41.1" lengthAdjust="spacingAndGlyphs">136.897</text>
<text x="177.7" y="23" font-size="12" fill="#2a2e39">H</text>
<text x="186.3" y="23" font-size="12" fill="#ef5350" textLength="40.4" lengthAdjust="spacingAndGlyphs">137.478</text>
<text x="235" y="23" font-size="12" fill="#2a2e39">L</text>
<text x="241.8" y="23" font-size="12" fill="#ef5350" textLength="39.9" lengthAdjust="spacingAndGlyphs">131.993</text>
<text x="289.8" y="23" font-size="12" fill="#2a2e39">C</text>
<text x="298.2" y="23" font-size="12" fill="#ef5350" textLength="40.3" lengthAdjust="spacingAndGlyphs">132.032</text>
<text x="346.8" y="23" font-size="12" fill="#ef5350" textLength="84" lengthAdjust="spacingAndGlyphs">−4.865 (−3.55%)</text>
<polyline fill="none" stroke="#7e57c2" stroke-width="1" stroke-linejoin="round" points="8.0,605.6 13.7,616.5 18.2,625.0 22.7,621.6 27.2,641.6 31.6,651.2 36.1,652.5 40.6,638.7 45.1,640.6 49.6,646.4 54.1,651.3 58.6,659.2 63.1,649.3 67.6,653.6 72.0,634.1 76.5,621.2 81.0,627.3 85.5,630.8 90.0,639.5 94.5,643.3 99.0,631.6 103.5,628.7 108.0,632.4 112.4,622.7 116.9,625.4 121.4,616.8 125.9,633.3 130.4,627.9 134.9,626.3 139.4,631.0 143.9,642.5 148.3,639.3 152.8,646.2 157.3,637.4 161.8,639.7 166.3,628.5 170.8,629.6 175.3,641.2 179.8,644.4 184.3,630.7 188.7,633.1 193.2,647.1 197.7,636.6 202.2,631.1 206.7,626.7 211.2,622.2 215.7,607.5 220.2,599.5 224.7,598.4 229.1,594.8 233.6,601.6 238.1,595.7 242.6,592.8 247.1,584.5 251.6,582.5 256.1,577.0 260.6,582.9 265.0,575.5 269.5,593.3 274.0,608.9 278.5,611.8 283.0,604.7 287.5,603.3 292.0,598.0 296.5,597.2 301.0,596.1 305.4,593.8 309.9,588.1 314.4,589.7 318.9,587.7 323.4,586.4 327.9,584.1 332.4,580.6 336.9,573.2 341.3,594.4 345.8,591.1 350.3,590.2 354.8,596.7 359.3,611.1 363.8,602.8 368.3,591.0 372.8,603.9 377.3,602.1 381.7,602.3 386.2,615.5 390.7,608.7 395.2,606.5 399.7,610.6 404.2,608.8 408.7,616.2 413.2,635.3 417.7,626.1 422.1,628.7 426.6,625.8 431.1,638.2 435.6,642.5 440.1,640.1 444.6,641.6 449.1,651.3 453.6,645.1 458.0,647.5 462.5,646.8 467.0,642.3 471.5,630.2 476.0,617.8 480.5,620.9 485.0,612.8 489.5,606.2 494.0,602.4 498.4,594.1 502.9,593.5 507.4,593.2 511.9,592.7 516.4,587.3 520.9,612.8 525.4,629.4 529.9,612.8 534.4,611.6 538.8,604.2 543.3,608.7 547.8,620.5 552.3,619.0 556.8,617.2 561.3,613.2 565.8,610.4 570.3,621.3 574.7,625.2 579.2,621.7 583.7,620.7 588.2,619.6 592.7,619.0 597.2,618.5 601.7,607.7 606.2,616.2 610.7,612.5 615.1,601.6 619.6,608.1 624.1,614.5 628.6,612.9 633.1,612.9 637.6,625.8 642.1,640.2 646.6,633.4 651.1,631.8 655.5,636.2 660.0,657.5 664.5,665.7 669.0,674.1 673.5,658.9 678.0,650.6 682.5,658.1 687.0,640.0 691.5,641.2 695.9,639.7 700.4,656.5 704.9,654.8 709.4,648.2 713.9,650.2 718.4,641.5 722.9,636.0 727.4,629.7 731.8,623.2 736.3,619.6 740.8,626.3 745.3,624.2 749.8,630.3 754.3,622.3 758.8,615.0 763.3,614.4 767.8,613.5 772.2,605.7 776.7,607.4 781.2,604.0 785.7,593.5 790.2,589.7 794.7,588.3 799.2,606.9 803.7,605.8 808.2,597.3 812.6,613.1 817.1,611.2 821.6,617.0 826.1,615.1 830.6,611.6 835.1,609.9 839.6,628.4 844.1,621.3 848.5,612.9 853.0,612.4 857.5,620.6 862.0,618.1 866.5,616.1 871.0,619.0 875.5,624.7 880.0,619.2 884.5,616.0 888.9,613.5 893.4,611.6 897.9,610.5 902.4,602.9 906.9,601.1 911.4,593.6 915.9,591.0 920.4,590.0 924.9,586.8 929.3,585.8 933.8,621.4 938.3,612.2 942.8,624.2 947.3,638.5 951.8,639.1 956.3,629.6 960.8,620.9 965.3,625.3 969.7,628.8 974.2,625.8 978.7,640.9 983.2,641.4 987.7,649.3 992.2,641.8 996.7,673.2 1001.2,681.2 1005.6,672.1 1010.1,674.4 1014.6,672.2 1019.1,665.8 1023.6,665.1 1028.1,650.6 1032.6,656.2 1037.1,664.3 1041.6,668.7 1046.0,663.3 1050.5,664.6 1055.0,666.0 1059.5,669.0 1064.0,681.0 1068.5,684.7 1073.1,662.7 1077.6,660.8 1082.2,663.4 1086.7,661.9 1091.2,662.7 1095.8,653.2 1100.3,664.7 1104.8,665.2 1109.4,646.4 1113.9,653.2 1118.5,651.3 1123.0,673.1"/>
<polyline fill="none" stroke="#f7e35a" stroke-width="1" stroke-linejoin="round" points="8.0,616.8 13.7,615.4 18.2,614.9 22.7,614.3 27.2,615.3 31.6,617.2 36.1,619.5 40.6,621.0 45.1,622.9 49.6,625.4 54.1,628.4 58.6,632.3 63.1,635.6 67.6,639.5 72.0,641.5 76.5,641.9 81.0,642.0 85.5,642.7 90.0,642.5 94.5,642.0 99.0,640.5 103.5,639.8 108.0,639.2 112.4,637.5 116.9,635.7 121.4,632.6 125.9,631.5 130.4,629.6 134.9,629.1 139.4,629.8 143.9,630.9 148.3,631.5 152.8,632.0 157.3,631.5 161.8,632.1 166.3,632.1 170.8,631.9 175.3,633.2 179.8,634.6 184.3,635.6 188.7,635.6 193.2,636.9 197.7,637.7 202.2,637.7 206.7,636.5 211.2,635.3 215.7,632.6 220.2,629.8 224.7,626.9 229.1,624.5 233.6,622.5 238.1,619.2 242.6,615.6 247.1,612.3 251.6,608.6 256.1,603.6 260.6,599.8 265.0,595.8 269.5,593.4 274.0,592.5 278.5,592.8 283.0,593.2 287.5,593.5 292.0,593.7 296.5,593.4 301.0,593.5 305.4,593.5 309.9,593.8 314.4,594.3 318.9,595.1 323.4,595.3 327.9,595.9 332.4,595.0 336.9,592.5 341.3,591.2 345.8,590.3 350.3,589.3 354.8,589.2 359.3,590.2 363.8,590.7 368.3,590.5 372.8,591.6 377.3,592.5 381.7,593.6 386.2,595.6 390.7,597.4 395.2,599.3 399.7,601.9 404.2,603.0 408.7,604.7 413.2,608.0 417.7,610.1 422.1,611.3 426.6,613.0 431.1,616.3 435.6,619.1 440.1,621.8 444.6,624.6 449.1,627.2 453.6,629.8 458.0,632.7 462.5,635.3 467.0,637.7 471.5,638.7 476.0,637.4 480.5,637.1 485.0,635.9 489.5,634.5 494.0,632.0 498.4,628.5 502.9,625.2 507.4,621.7 511.9,617.5 516.4,613.4 520.9,610.9 525.4,609.7 529.9,607.6 534.4,606.3 538.8,605.3 543.3,604.4 547.8,605.0 552.3,605.9 556.8,606.9 561.3,608.3 565.8,609.5 570.3,611.5 574.7,613.8 579.2,616.3 583.7,616.8 588.2,616.1 592.7,616.6 597.2,617.1 601.7,617.3 606.2,617.9 610.7,617.3 615.1,616.1 619.6,615.4 624.1,615.5 628.6,615.7 633.1,615.1 637.6,615.1 642.1,616.5 646.6,617.4 651.1,618.2 655.5,619.5 660.0,622.2 664.5,626.4 669.0,630.5 673.5,633.8 678.0,637.3 682.5,640.9 687.0,642.7 691.5,644.7 695.9,646.7 700.4,648.9 704.9,649.9 709.4,651.0 713.9,652.3 718.4,652.6 722.9,651.1 727.4,648.6 731.8,644.9 736.3,642.1 740.8,640.4 745.3,637.9 749.8,637.2 754.3,635.9 758.8,634.1 763.3,631.1 767.8,628.2 772.2,625.1 776.7,622.1 781.2,619.4 785.7,616.4 790.2,613.5 794.7,611.0 799.2,610.1 803.7,608.6 808.2,606.7 812.6,605.5 817.1,604.7 821.6,604.8 826.1,604.9 830.6,604.8 835.1,605.1 839.6,606.6 844.1,607.8 848.5,609.2 853.0,610.8 857.5,613.1 862.0,613.9 866.5,614.6 871.0,616.2 875.5,617.0 880.0,617.6 884.5,617.5 888.9,617.4 893.4,617.4 897.9,617.5 902.4,615.6 906.9,614.2 911.4,612.8 915.9,611.3 920.4,609.1 924.9,606.9 929.3,604.7 933.8,604.9 938.3,604.0 942.8,604.3 947.3,605.9 951.8,607.8 956.3,609.1 960.8,609.8 965.3,611.4 969.7,613.4 974.2,615.7 978.7,619.2 983.2,622.9 987.7,627.4 992.2,631.4 996.7,635.1 1001.2,640.0 1005.6,643.4 1010.1,646.0 1014.6,648.4 1019.1,650.9 1023.6,654.1 1028.1,655.9 1032.6,657.9 1037.1,660.6 1041.6,662.6 1046.0,664.2 1050.5,665.3 1055.0,667.0 1059.5,666.7 1064.0,666.7 1068.5,667.6 1073.1,666.7 1077.6,665.9 1082.2,665.7 1086.7,665.5 1091.2,666.4 1095.8,666.2 1100.3,666.2 1104.8,665.9 1109.4,664.7 1113.9,663.9 1118.5,662.9 1123.0,663.2"/>
<rect x="1269.5" y="5" width="66.5" height="720" fill="#fff"/>
<line x1="1269.5" y1="5" x2="1269.5" y2="725" stroke="#e0e3eb" stroke-width="1"/>
<line x1="8" y1="555.5" x2="1336" y2="555.5" stroke="#e0e3eb" stroke-width="1"/>
<line x1="8" y1="698.5" x2="1336" y2="698.5" stroke="#e0e3eb" stroke-width="1"/>
<text x="1279" y="21.7" font-size="12" fill="#131722">JPY</text>
<text x="1279.6" y="87.7" font-size="12" fill="#131722" textLength="41.2" lengthAdjust="spacingAndGlyphs">156.000</text>
<text x="1279.6" y="129.5" font-size="12" fill="#131722" textLength="41.2" lengthAdjust="spacingAndGlyphs">152.000</text>
<text x="1279.6" y="171.3" font-size="12" fill="#131722" textLength="41.2" lengthAdjust="spacingAndGlyphs">148.000</text>
<text x="1279.6" y="213.1" font-size="12" fill="#131722" textLength="41.2" lengthAdjust="spacingAndGlyphs">144.000</text>
<text x="1279.6" y="296.7" font-size="12" fill="#131722" textLength="41.2" lengthAdjust="spacingAndGlyphs">136.000</text>
<text x="1279.6" y="380.3" font-size="12" fill="#131722" textLength="41.2" lengthAdjust="spacingAndGlyphs">128.000</text>
<text x="1279.6" y="422.1" font-size="12" fill="#131722" textLength="41.2" lengthAdjust="spacingAndGlyphs">124.000</text>
<text x="1279.6" y="463.9" font-size="12" fill="#131722" textLength="41.2" lengthAdjust="spacingAndGlyphs">120.000</text>
<path d="M1269,29.0H1326Q1328,29.0 1328,31.0V44.0Q1328,46.0 1326,46.0H1269Z" fill="#0c2f9b"/>
<text x="1279.5" y="41.8" font-size="12" font-weight="bold" fill="#fff" textLength="41.5" lengthAdjust="spacingAndGlyphs">160.400</text>
<path d="M1269,204.5H1326Q1328,204.5 1328,206.5V219.5Q1328,221.5 1326,221.5H1269Z" fill="#0c2f9b"/>
<text x="1279.5" y="217.3" font-size="12" font-weight="bold" fill="#fff" textLength="41.5" lengthAdjust="spacingAndGlyphs">143.525</text>
<path d="M1269,242.5H1326Q1328,242.5 1328,244.5V257.5Q1328,259.5 1326,259.5H1269Z" fill="#0c2f9b"/>
<text x="1279.5" y="255.3" font-size="12" font-weight="bold" fill="#fff" textLength="41.5" lengthAdjust="spacingAndGlyphs">139.894</text>
<path d="M1269,261.5H1326Q1328,261.5 1328,263.5V276.5Q1328,278.5 1326,278.5H1269Z" fill="#2d1a91"/>
<text x="1279.5" y="274.3" font-size="12" font-weight="bold" fill="#fff" textLength="41.5" lengthAdjust="spacingAndGlyphs">138.130</text>
<path d="M1269,307.8H1326Q1328,307.8 1328,309.8V322.8Q1328,324.8 1326,324.8H1269Z" fill="#0c2f9b"/>
<text x="1279.5" y="320.6" font-size="12" font-weight="bold" fill="#fff" textLength="41.5" lengthAdjust="spacingAndGlyphs">133.619</text>
<path d="M1269,355.9H1326Q1328,355.9 1328,357.9V370.9Q1328,372.9 1326,372.9H1269Z" fill="#2d1a91"/>
<text x="1279.5" y="368.7" font-size="12" font-weight="bold" fill="#fff" textLength="41.5" lengthAdjust="spacingAndGlyphs">130.391</text>
<path d="M1269,488.9H1326Q1328,488.9 1328,490.9V503.9Q1328,505.9 1326,505.9H1269Z" fill="#0c2f9b"/>
<text x="1279.5" y="501.7" font-size="12" font-weight="bold" fill="#fff" textLength="41.5" lengthAdjust="spacingAndGlyphs">116.352</text>
<path d="M1269,531.5H1326Q1328,531.5 1328,533.5V546.5Q1328,548.5 1326,548.5H1269Z" fill="#0b3223"/>
<text x="1279.5" y="544.3" font-size="12" font-weight="bold" fill="#fff" textLength="41.5" lengthAdjust="spacingAndGlyphs">112.220</text>
<path d="M1269,325.2H1330Q1332,325.2 1332,327.2V353.5Q1332,355.5 1330,355.5H1269Z" fill="#ef5350"/>
<text x="1279" y="337.3" font-size="12" fill="#fff" textLength="41.8" lengthAdjust="spacingAndGlyphs">132.032</text>
<text x="1279" y="351.7" font-size="12" fill="#fff" textLength="46.2" lengthAdjust="spacingAndGlyphs">06:54:06</text>
<text x="1279.6" y="588.7" font-size="12" fill="#131722" textLength="29" lengthAdjust="spacingAndGlyphs">80.00</text>
<text x="1279.6" y="625.7" font-size="12" fill="#131722" textLength="29" lengthAdjust="spacingAndGlyphs">60.00</text>
<text x="1279.6" y="699.7" font-size="12" fill="#131722" textLength="29" lengthAdjust="spacingAndGlyphs">20.00</text>
<rect x="1269.5" y="698.5" width="66.5" height="26.5" fill="#fff"/>
<path d="M1269,649.1H1313Q1315,649.1 1315,651.1V666H1269Z" fill="#ffeb3b"/>
<path d="M1269,666H1315V681Q1315,683 1313,683H1269Z" fill="#7e57c2"/>
<text x="1279.6" y="661.7" font-size="12" fill="#131722" textLength="29" lengthAdjust="spacingAndGlyphs">36.87</text>
<text x="1279.6" y="678.7" font-size="12" fill="#fff" textLength="29" lengthAdjust="spacingAndGlyphs">31.37</text>
<text x="91" y="716.5" font-size="12" fill="#131722" text-anchor="middle">Feb</text>
<text x="180" y="716.5" font-size="12" fill="#131722" text-anchor="middle">Mar</text>
<text x="283" y="716.5" font-size="12" fill="#131722" text-anchor="middle">Apr</text>
<text x="378" y="716.5" font-size="12" fill="#131722" text-anchor="middle">May</text>
<text x="476" y="716.5" font-size="12" fill="#131722" text-anchor="middle">Jun</text>
<text x="575" y="716.5" font-size="12" fill="#131722" text-anchor="middle">Jul</text>
<text x="669" y="716.5" font-size="12" fill="#131722" text-anchor="middle">Aug</text>
<text x="773" y="716.5" font-size="12" fill="#131722" text-anchor="middle">Sep</text>
<text x="871" y="716.5" font-size="12" fill="#131722" text-anchor="middle">Oct</text>
<text x="966" y="716.5" font-size="12" fill="#131722" text-anchor="middle">Nov</text>
<text x="1064" y="716.5" font-size="12" fill="#131722" text-anchor="middle">Dec</text>
<text x="1163" y="716.5" font-size="12" fill="#131722" text-anchor="middle" font-weight="bold">2023</text>
<text x="1262" y="716.5" font-size="12" fill="#131722" text-anchor="middle">Feb</text>
<rect x="1269.5" y="699" width="66.5" height="26" fill="#fff"/>
<line x1="1269.5" y1="698" x2="1269.5" y2="725" stroke="#e0e3eb" stroke-width="1"/>
<g fill="#131722"><path d="M8,738.2H16V747.7H12V741.5H8Z"/><circle cx="19.2" cy="740.1" r="1.75"/><path d="M22.2,738.2H27.6L23.5,747.7H19.3Z"/></g>
<text x="31.2" y="747.7" font-size="13" fill="#131722" textLength="70.4" lengthAdjust="spacingAndGlyphs">TradingView</text>
</svg>
</body></html>
